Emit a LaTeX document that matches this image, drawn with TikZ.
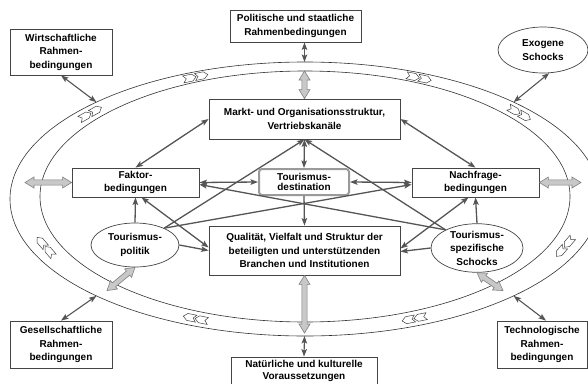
\documentclass[tikz,border=0pt]{standalone}
\usepackage{fontspec}
\setmainfont{Liberation Sans}
\usepackage{xcolor}
\usepackage{tikz}
\usetikzlibrary{shapes.geometric,calc,arrows.meta}

\definecolor{framec}{HTML}{454545}
\definecolor{arrowc}{HTML}{555555}
\definecolor{fatc}{HTML}{C8C8C8}
\definecolor{fatedge}{HTML}{808080}
\definecolor{destc}{HTML}{9A9A9A}

% hollow grey double arrow between two points
\newcommand{\fatarrow}[2]{%
  \filldraw[fatbody] let \p1=(#1), \p2=(#2), \n1={atan2(\y2-\y1,\x2-\x1)} in
    (\p1) -- ($(\p1)+(\n1:9pt)+(\n1+90:5.5pt)$) -- ($(\p1)+(\n1:9pt)+(\n1+90:2.6pt)$)
    -- ($(\p2)+(\n1+180:9pt)+(\n1+90:2.6pt)$) -- ($(\p2)+(\n1+180:9pt)+(\n1+90:5.5pt)$)
    -- (\p2) -- ($(\p2)+(\n1+180:9pt)+(\n1-90:5.5pt)$) -- ($(\p2)+(\n1+180:9pt)+(\n1-90:2.6pt)$)
    -- ($(\p1)+(\n1:9pt)+(\n1-90:2.6pt)$) -- ($(\p1)+(\n1:9pt)+(\n1-90:5.5pt)$) -- cycle;}

\begin{document}
\begin{tikzpicture}[x=1pt,y=-1pt,>={Stealth[length=7.5pt,width=5.5pt,inset=1.5pt]},
  font=\bfseries\fontsize{10}{13.5}\selectfont,
  box/.style={draw=framec,line width=0.8pt,fill=white,align=center,inner sep=0pt},
  oval/.style={ellipse,draw=framec,line width=0.7pt,fill=white,align=center,inner sep=0pt},
  link/.style={<->,draw=arrowc,line width=1.3pt},
  feed/.style={->,draw=arrowc,line width=1.3pt},
  outer/.style={<->,draw=arrowc,line width=1.1pt},
  ring/.style={draw=black!80,line width=0.6pt},
  fatbody/.style={fill=fatc,draw=fatedge,line width=0.6pt},
  chev/.style={fill=white,draw=black!75,line width=0.5pt}]

\clip (0,0) rectangle (588,383);

% --- Ring ---
\draw[ring] (305,199) ellipse [x radius=295, y radius=137];
\draw[ring] (305,196.5) ellipse [x radius=265, y radius=125.5];
\foreach \t in {140,113,66,40,-22,-67,-113,-158} {
  \pgfmathsetmacro{\rot}{atan2(-131.25*cos(\t),280*sin(\t))}
  \begin{scope}[shift={({305+280*cos(\t)},{197.75-131.25*sin(\t)})},rotate=\rot]
    \foreach \d in {-12.5,-0.5}
      \draw[chev] (\d,-3.5) -- ++(9,0) -- ++(4,3.5) -- ++(-4,3.5) -- ++(-9,0) -- ++(3,-3.5) -- cycle;
  \end{scope}
}

% points on the ring
\coordinate (rN) at (304.5,62);
\coordinate (rNi) at (304.5,71);
\coordinate (rS) at (304.5,336);
\coordinate (rSi) at (304.5,333);
\coordinate (rW) at (25,182.5);
\coordinate (rE) at (581,182.5);
\coordinate (rWN) at ({305+295*cos(135)},{199-137*sin(135)});
\coordinate (rEN) at ({305+295*cos(45)},{199-137*sin(45)});
\coordinate (rWS) at ({305+295*cos(-135)},{199-137*sin(-135)});
\coordinate (rES) at ({305+295*cos(-45)},{199-137*sin(-45)});
\coordinate (rmWS) at ({305+280*cos(-135)},{197.75-131.25*sin(-135)});
\coordinate (rmES) at ({305+280*cos(-45)},{197.75-131.25*sin(-45)});

% --- Outside: Rahmenbedingungen ---
\node[box,minimum width=102,minimum height=46] (wirt) at (61,52) {Wirtschaftliche\\Rahmen-\\bedingungen};
\node[box,minimum width=131,minimum height=32] (polit) at (295.5,26) {Politische und staatliche\\Rahmenbedingungen};
\node[oval,minimum width=90,minimum height=46] (exo) at (543,50) {Exogene\\Schocks};
\node[box,minimum width=102,minimum height=47] (ges) at (61,344.5) {Gesellschaftliche\\Rahmen-\\bedingungen};
\node[box,minimum width=146,minimum height=28,font=\bfseries\fontsize{10}{12.5}\selectfont] (nat) at (304,371) {Natürliche und kulturelle\\Voraussetzungen};
\node[box,minimum width=90,minimum height=47] (tech) at (542,344.5) {Technologische\\Rahmen-\\bedingungen};

% --- Inside: Destination ---
\node[box,minimum width=191,minimum height=40] (markt) at (304.5,119) {Markt- und Organisationsstruktur,\\Vertriebskanäle};
\node[box,minimum width=127,minimum height=29] (faktor) at (135.5,182.5) {Faktor-\\bedingungen};
\node[box,draw=destc,line width=2pt,rounded corners=3pt,minimum width=90,minimum height=26,
      font=\bfseries\fontsize{10}{9.5}\selectfont] (dest) at (304,182) {Tourismus-\\destination};
\node[box,minimum width=127,minimum height=29] (nach) at (475.5,182.5) {Nachfrage-\\bedingungen};
\node[box,minimum width=191,minimum height=49] (qual) at (304.5,250.5) {Qualität, Vielfalt und Struktur der\\beteiligten und unterstützenden\\Branchen und Institutionen};
\node[oval,minimum width=88,minimum height=44] (tpol) at (135,245) {Tourismus-\\politik};
\node[oval,minimum width=92,minimum height=48] (tsch) at (477,248) {Tourismus-\\spezifische\\Schocks};

% links to the outside
\draw[outer] (wirt.south) -- (rWN);
\draw[outer] (exo.285) -- (rEN);
\draw[outer] (ges.north) -- (rWS);
\draw[outer] ([xshift=4pt]tech.north) -- (rES);
\draw[outer] (polit.south -| rN) -- (rN);
\draw[outer] (rS) -- (nat.north);

% grey double arrows across the ring
\fatarrow{rNi}{markt.north}
\fatarrow{qual.south}{rSi}
\fatarrow{rW}{faktor.west}
\fatarrow{nach.east}{rE}
\fatarrow{tpol.south}{rmWS}
\fatarrow{tsch.south}{rmES}

% inner links
\draw[link] (faktor.north) -- (markt.west);
\draw[link] (nach.north) -- (markt.east);
\draw[link] (markt.south) -- (dest.north);
\draw[feed] (dest.south) -- (qual.north);
\draw[link] (faktor.east) -- (dest.west);
\draw[link] (dest.east) -- (nach.west);
\draw[feed] (tpol.30) -- (markt.south);
\draw[feed] (tsch.150) -- (markt.south);
\draw[feed] (tpol.30) -- ([yshift=-2pt]nach.west);
\draw[feed] (tsch.150) -- ([yshift=-2pt]faktor.east);
\draw[feed] (tpol.north) -- (faktor.south);
\draw[feed] (tsch.north) -- (nach.south);
\draw[link] ([xshift=6pt]faktor.south) -- ([yshift=3pt]qual.west);
\draw[link] ([xshift=-7pt]nach.south) -- ([yshift=2pt]qual.east);
\draw[feed] (tpol.east) -- (qual.west);
\draw[feed] (tsch.west) -- ([yshift=-1pt]qual.east);

\end{tikzpicture}
\end{document}
